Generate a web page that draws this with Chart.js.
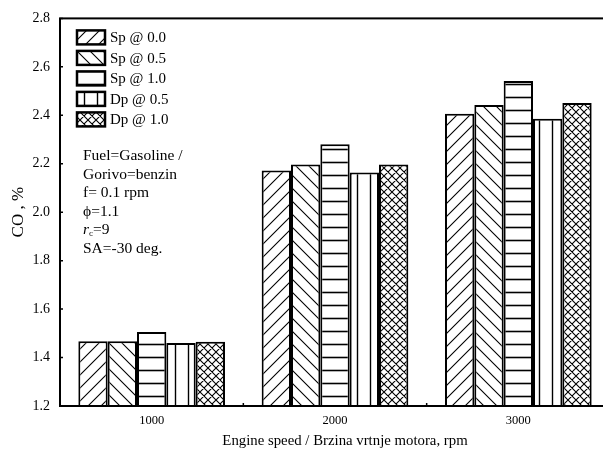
<!DOCTYPE html>
<html>
<head>
<meta charset="utf-8">
<script src="https://cdn.jsdelivr.net/npm/chart.js@4/dist/chart.umd.min.js"></script>
<style>
  html, body { margin: 0; padding: 0; background: #fff; overflow: hidden; }
  #wrap { width: 603px; height: 455px; overflow: hidden; }
</style>
</head>
<body>
<div id="wrap"><canvas id="coChart" width="612" height="455"></canvas></div>
<script>
const speeds = ['1000', '2000', '3000'];
const seriesNames = ['Sp @ 0.0', 'Sp @ 0.5', 'Sp @ 1.0', 'Dp @ 0.5', 'Dp @ 1.0'];
const sp00 = [1.467, 2.172, 2.406];
const sp05 = [1.467, 2.197, 2.443];
const sp10 = [1.505, 2.280, 2.542];
const dp05 = [1.460, 2.164, 2.386];
const dp10 = [1.465, 2.197, 2.451];
const yTicks = [1.2, 1.4, 1.6, 1.8, 2.0, 2.2, 2.4, 2.6, 2.8];
const noteLines = ['Fuel=Gasoline /', 'Gorivo=benzin', 'f= 0.1 rpm', '\u03D5=1.1', 'rc=9', 'SA=-30 deg.'];
const xTitle = 'Engine speed / Brzina vrtnje motora, rpm';

const serif = '"Liberation Serif", "Times New Roman", serif';

// hatch fills
function hatch(kind) {
  const size = kind === 'cross' ? 8 : 13;
  const c = document.createElement('canvas');
  c.width = size; c.height = size;
  const g = c.getContext('2d');
  g.fillStyle = '#fff';
  g.fillRect(0, 0, size, size);
  g.strokeStyle = '#000';
  g.lineWidth = 1.1;
  g.beginPath();
  if (kind === 'fwd' || kind === 'cross') {
    g.moveTo(-1, size + 1); g.lineTo(size + 1, -1);
    g.moveTo(-1, 1); g.lineTo(1, -1);
    g.moveTo(size - 1, size + 1); g.lineTo(size + 1, size - 1);
  }
  if (kind === 'back' || kind === 'cross') {
    g.moveTo(-1, -1); g.lineTo(size + 1, size + 1);
    g.moveTo(size - 1, -1); g.lineTo(size + 1, 1);
    g.moveTo(-1, size - 1); g.lineTo(1, size + 1);
  }
  if (kind === 'horiz') {
    g.lineWidth = 1.6;
    g.moveTo(0, size / 2); g.lineTo(size, size / 2);
  }
  if (kind === 'vert') {
    g.lineWidth = 1.4;
    g.moveTo(size / 2, 0); g.lineTo(size / 2, size);
  }
  g.stroke();
  return g.createPattern(c, 'repeat');
}

const fills = [hatch('fwd'), hatch('back'), hatch('horiz'), hatch('vert'), hatch('cross')];
const values = [sp00, sp05, sp10, dp05, dp10];

const frameAndNotes = {
  id: 'frameAndNotes',
  afterDatasetsDraw(chart) {
    const { ctx, chartArea: a, scales } = chart;
    ctx.save();
    ctx.strokeStyle = '#000';
    ctx.lineWidth = 2;
    ctx.strokeRect(a.left, a.top, a.right - a.left, a.bottom - a.top);

    // small inward ticks
    ctx.lineWidth = 1.5;
    ctx.beginPath();
    yTicks.forEach(v => {
      const y = scales.y.getPixelForValue(v);
      ctx.moveTo(a.left, y); ctx.lineTo(a.left + 3, y);
    });
    for (let i = 0; i < speeds.length - 1; i++) {
      const x = (scales.x.getPixelForValue(i) + scales.x.getPixelForValue(i + 1)) / 2;
      ctx.moveTo(x, a.bottom); ctx.lineTo(x, a.bottom - 3);
    }
    ctx.stroke();

    // legend inside the plot
    ctx.fillStyle = '#000';
    ctx.textBaseline = 'middle';
    chart.data.datasets.forEach((ds, i) => {
      const cy = a.top + 19 + i * 20.5;
      ctx.fillStyle = ds.backgroundColor;
      ctx.fillRect(a.left + 17, cy - 7, 28, 14);
      ctx.lineWidth = 2.5;
      ctx.strokeRect(a.left + 17, cy - 7, 28, 14);
      ctx.fillStyle = '#000';
      ctx.font = '15px ' + serif;
      ctx.fillText(ds.label, a.left + 50, cy + 1);
    });

    // condition notes
    ctx.textBaseline = 'alphabetic';
    const x0 = a.left + 23;
    let y0 = 160;
    noteLines.forEach(line => {
      if (line === 'rc=9') {
        ctx.font = 'italic 15.5px ' + serif;
        ctx.fillText('r', x0, y0);
        const w = ctx.measureText('r').width;
        ctx.font = '9px ' + serif;
        ctx.fillText('c', x0 + w, y0 + 2);
        ctx.font = '15.5px ' + serif;
        ctx.fillText('=9', x0 + w + 4, y0);
      } else {
        ctx.font = '15.5px ' + serif;
        ctx.fillText(line, x0, y0);
      }
      y0 += 18.6;
    });

    // x axis title
    ctx.font = '14.8px ' + serif;
    ctx.textAlign = 'center';
    ctx.fillText(xTitle, 345, 445);
    ctx.restore();
  }
};

new Chart(document.getElementById('coChart'), {
  type: 'bar',
  data: {
    labels: speeds,
    datasets: seriesNames.map((name, i) => ({
      label: name,
      data: values[i],
      backgroundColor: fills[i],
      borderColor: '#000',
      borderWidth: 2,
      borderSkipped: false,
      categoryPercentage: 0.8,
      barPercentage: 1.0
    }))
  },
  options: {
    responsive: false,
    animation: false,
    devicePixelRatio: 1,
    layout: { padding: { top: 16, right: 2, left: 0, bottom: 0 } },
    plugins: {
      tooltip: { enabled: false },
      legend: { display: false }
    },
    scales: {
      x: {
        grid: { display: false, drawTicks: false },
        border: { display: false },
        ticks: { color: '#000', font: { family: serif, size: 12.5 }, padding: 7 },
        afterFit(scale) { scale.height = 49; }
      },
      y: {
        min: 1.2,
        max: 2.8,
        afterBuildTicks(scale) { scale.ticks = yTicks.map(v => ({ value: v })); },
        grid: { display: false, drawTicks: false },
        border: { display: false },
        ticks: {
          color: '#000',
          font: { family: serif, size: 14 },
          padding: 10,
          callback: v => v.toFixed(1)
        },
        title: {
          display: true,
          text: 'CO , %',
          color: '#000',
          font: { family: serif, size: 17 },
          padding: { top: 8, bottom: 0 }
        },
        afterFit(scale) { scale.width = 60; }
      }
    }
  },
  plugins: [frameAndNotes]
});
</script>
</body>
</html>
